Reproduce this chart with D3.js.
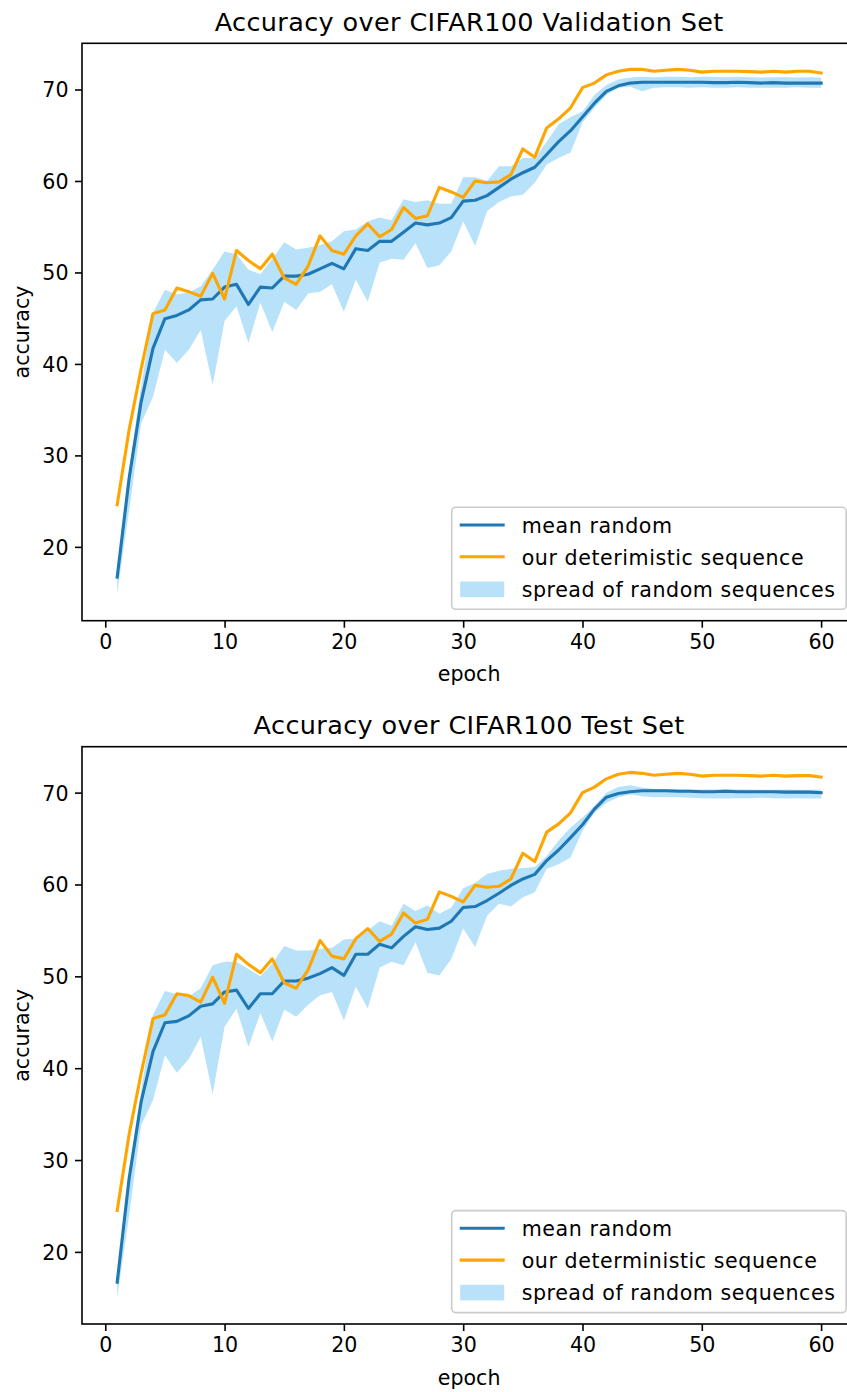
<!DOCTYPE html>
<html>
<head>
<meta charset="utf-8">
<script src="https://cdn.jsdelivr.net/npm/d3@7"></script>
<style>
  html, body { margin: 0; padding: 0; background: #fff; }
  svg { display: block; }
  text { font-family: "DejaVu Sans", sans-serif; fill: #000; }
</style>
</head>
<body>
<div id="chart"></div>
<script>
// ---- data -------------------------------------------------------------
const epochs = d3.range(1, 61);
const xTicks = [0, 10, 20, 30, 40, 50, 60];
const yTicks = [20, 30, 40, 50, 60, 70];

// Validation set
const valMean = [16.7, 27.5, 35.8, 41.7, 44.95, 45.3, 45.9, 47.0, 47.1, 48.4,
  48.7, 46.5, 48.4, 48.3, 49.6, 49.6, 49.8, 50.4, 51.0, 50.4,
  52.6, 52.4, 53.4, 53.4, 54.4, 55.4, 55.2, 55.4, 56.0, 57.8,
  57.9, 58.4, 59.3, 60.2, 60.9, 61.5, 62.9, 64.3, 65.5, 67.0,
  68.5, 69.8, 70.4, 70.7, 70.8, 70.8, 70.8, 70.8, 70.8, 70.8,
  70.75, 70.75, 70.8, 70.75, 70.7, 70.75, 70.7, 70.7, 70.7, 70.7];
const valUpper = [16.9, 28.5, 37.5, 45.6, 48.1, 47.6, 47.8, 48.5, 50.3, 52.3,
  52.0, 50.3, 49.8, 51.5, 53.3, 52.5, 52.7, 53.0, 53.4, 54.5,
  54.7, 55.6, 56.0, 55.7, 58.0, 57.7, 57.9, 57.5, 57.5, 60.4,
  60.4, 60.0, 61.6, 61.6, 62.5, 62.5, 64.3, 66.2, 67.0, 67.6,
  69.4, 70.5, 71.1, 71.3, 71.4, 71.35, 71.4, 71.4, 71.35, 71.4,
  71.4, 71.35, 71.4, 71.35, 71.3, 71.35, 71.35, 71.3, 71.35, 71.3];
const valLower = [14.9, 24.0, 33.5, 36.4, 41.55, 40.1, 41.55, 43.7, 37.7, 44.7,
  46.3, 42.3, 46.7, 43.5, 46.8, 45.9, 47.7, 47.9, 48.7, 45.7,
  49.2, 46.8, 51.1, 51.5, 51.4, 53.2, 50.5, 50.8, 52.3, 55.6,
  52.9, 56.7, 57.7, 58.3, 58.5, 59.8, 61.8, 62.5, 63.1, 66.4,
  68.0, 69.4, 70.2, 70.3, 69.8, 70.2, 70.25, 70.25, 70.2, 70.25,
  70.2, 70.2, 70.25, 70.2, 70.2, 70.2, 70.2, 70.25, 70.2, 70.2];
const valDet = [24.6, 32.8, 39.4, 45.5, 45.9, 48.3, 47.9, 47.4, 49.9, 47.1,
  52.4, 51.3, 50.4, 52.0, 49.4, 48.7, 50.7, 54.0, 52.4, 52.0,
  54.0, 55.3, 53.9, 54.7, 57.1, 55.9, 56.2, 59.3, 58.8, 58.2,
  60.0, 59.8, 59.9, 60.7, 63.5, 62.6, 65.8, 66.8, 68.0, 70.2,
  70.7, 71.6, 72.0, 72.2, 72.2, 72.0, 72.1, 72.2, 72.1, 71.9,
  72.0, 72.0, 72.0, 71.95, 71.9, 72.0, 71.9, 72.0, 72.0, 71.8];

// Test set
const testMean = [16.7, 28.0, 36.3, 41.8, 44.95, 45.1, 45.7, 46.75, 47.0, 48.3,
  48.5, 46.5, 48.1, 48.1, 49.5, 49.5, 49.8, 50.3, 50.95, 50.1,
  52.4, 52.4, 53.5, 53.1, 54.35, 55.4, 55.1, 55.25, 56.0, 57.5,
  57.6, 58.25, 59.05, 59.9, 60.6, 61.1, 62.6, 63.75, 65.1, 66.5,
  68.2, 69.5, 69.9, 70.1, 70.2, 70.2, 70.2, 70.15, 70.15, 70.1,
  70.1, 70.15, 70.1, 70.1, 70.1, 70.1, 70.05, 70.05, 70.05, 70.0];
const testUpper = [16.9, 28.8, 37.5, 45.8, 48.4, 48.05, 47.8, 48.7, 51.2, 51.6,
  51.6, 50.8, 50.0, 51.4, 53.3, 52.8, 52.8, 53.0, 53.1, 54.0,
  54.1, 55.0, 56.0, 55.5, 57.9, 57.1, 57.7, 56.8, 57.5, 59.6,
  60.2, 61.15, 61.5, 61.7, 61.8, 61.9, 63.1, 64.8, 66.2, 67.3,
  68.55, 70.0, 70.6, 70.8, 70.55, 70.4, 70.4, 70.4, 70.35, 70.35,
  70.35, 70.4, 70.35, 70.35, 70.3, 70.3, 70.35, 70.3, 70.3, 70.3];
const testLower = [15.0, 24.0, 33.8, 36.5, 41.4, 39.5, 41.0, 43.4, 37.2, 44.5,
  46.5, 42.3, 46.0, 42.9, 46.4, 45.6, 46.9, 47.95, 48.3, 45.2,
  48.9, 46.5, 50.95, 51.6, 51.2, 53.7, 50.4, 50.1, 51.9, 55.2,
  53.2, 56.6, 57.9, 57.6, 58.6, 59.15, 61.7, 62.2, 62.95, 65.85,
  67.8, 68.9, 69.5, 69.8, 69.6, 69.5, 69.5, 69.5, 69.45, 69.4,
  69.35, 69.35, 69.4, 69.4, 69.45, 69.4, 69.35, 69.4, 69.35, 69.35];
const testDet = [24.5, 32.8, 39.4, 45.4, 45.8, 48.1, 47.9, 47.2, 49.9, 47.05,
  52.4, 51.3, 50.4, 51.9, 49.3, 48.7, 50.7, 53.9, 52.2, 51.9,
  54.1, 55.2, 53.8, 54.6, 56.9, 55.8, 56.2, 59.2, 58.7, 58.1,
  59.9, 59.7, 59.8, 60.6, 63.4, 62.5, 65.7, 66.6, 67.8, 70.0,
  70.6, 71.5, 72.0, 72.2, 72.1, 71.9, 72.0, 72.1, 72.0, 71.8,
  71.9, 71.9, 71.9, 71.85, 71.8, 71.9, 71.8, 71.85, 71.85, 71.7];

const panels = [
  { title: "Accuracy over CIFAR100 Validation Set", top: 43.3, bottom: 620.7,
    yDomain: [11.93, 75.05], mean: valMean, upper: valUpper, lower: valLower, det: valDet,
    labels: ["mean random", "our deterimistic sequence", "spread of random sequences"] },
  { title: "Accuracy over CIFAR100 Test Set", top: 746.7, bottom: 1324,
    yDomain: [12.15, 75.0], mean: testMean, upper: testUpper, lower: testLower, det: testDet,
    labels: ["mean random", "our deterministic sequence", "spread of random sequences"] }
];

// ---- drawing ----------------------------------------------------------
const W = 847, H = 1392;
const left = 82, right = 856.3;
const FS = 20.6, TITLE_FS = 25.5;
const BLUE = "#1f77b4", ORANGE = "#ffa500", BAND = "#b7e2fa";

const svg = d3.select("#chart").append("svg")
  .attr("width", W).attr("height", H)
  .attr("viewBox", `0 0 ${W} ${H}`);

panels.forEach((p, i) => {
  const x = d3.scaleLinear().domain([-1.95, 62.95]).range([left, right]);
  const y = d3.scaleLinear().domain(p.yDomain).range([p.bottom, p.top]);
  const g = svg.append("g");

  const clipId = "clip" + i;
  svg.append("clipPath").attr("id", clipId).append("rect")
    .attr("x", left).attr("y", p.top).attr("width", right - left).attr("height", p.bottom - p.top);

  const plot = g.append("g").attr("clip-path", `url(#${clipId})`);

  const rows = epochs.map((e, k) => ({ e, m: p.mean[k], u: p.upper[k], l: p.lower[k], d: p.det[k] }));

  // spread band, mean line, deterministic line
  plot.append("path").datum(rows)
    .attr("d", d3.area().x(r => x(r.e)).y0(r => y(r.l)).y1(r => y(r.u)))
    .attr("fill", BAND).attr("stroke", "none");

  plot.append("path").datum(rows)
    .attr("d", d3.line().x(r => x(r.e)).y(r => y(r.m)))
    .attr("fill", "none").attr("stroke", BLUE).attr("stroke-width", 3.1)
    .attr("stroke-linejoin", "round").attr("stroke-linecap", "square");

  plot.append("path").datum(rows)
    .attr("d", d3.line().x(r => x(r.e)).y(r => y(r.d)))
    .attr("fill", "none").attr("stroke", ORANGE).attr("stroke-width", 3.1)
    .attr("stroke-linejoin", "round").attr("stroke-linecap", "square");

  // axes
  const xAxis = d3.axisBottom(x).tickValues(xTicks).tickSize(7).tickPadding(6).tickFormat(d3.format("d"));
  const yAxis = d3.axisLeft(y).tickValues(yTicks).tickSize(7).tickPadding(6).tickFormat(d3.format("d"));

  const gx = g.append("g").attr("transform", `translate(0,${p.bottom})`).call(xAxis);
  const gy = g.append("g").attr("transform", `translate(${left},0)`).call(yAxis);
  [gx, gy].forEach(a => {
    a.select(".domain").remove();
    a.selectAll(".tick line").attr("stroke", "#000").attr("stroke-width", 1.6);
    a.selectAll(".tick text").attr("font-size", FS).attr("font-family", "DejaVu Sans").attr("fill", "#000");
  });
  gx.selectAll(".tick text").attr("dy", "0.73em").attr("y", 13);
  gy.selectAll(".tick text").attr("dy", "0.36em").attr("x", -13.5);

  // spines
  g.append("rect")
    .attr("x", left).attr("y", p.top).attr("width", right - left).attr("height", p.bottom - p.top)
    .attr("fill", "none").attr("stroke", "#000").attr("stroke-width", 1.6);

  // labels
  const cx = (left + right) / 2;
  g.append("text").attr("x", cx).attr("y", p.top - 12.5).attr("text-anchor", "middle")
    .attr("font-size", TITLE_FS).attr("letter-spacing", 0.38).text(p.title);
  g.append("text").attr("x", cx).attr("y", p.bottom + 60.5).attr("text-anchor", "middle")
    .attr("font-size", FS).text("epoch");
  const ym = (p.top + p.bottom) / 2;
  g.append("text").attr("transform", `translate(29,${ym}) rotate(-90)`).attr("text-anchor", "middle")
    .attr("font-size", FS).text("accuracy");

  // legend
  const lgX = 451.7, lgW = 394.5, lgH = 102, lgY = p.bottom - 11.4 - lgH;
  const lg = g.append("g");
  lg.append("rect").attr("x", lgX).attr("y", lgY).attr("width", lgW).attr("height", lgH)
    .attr("rx", 4).attr("ry", 4)
    .attr("fill", "#fff").attr("fill-opacity", 0.8).attr("stroke", "#cccccc").attr("stroke-width", 1.6);
  const rowY = [lgY + 17.7, lgY + 49.5, lgY + 82];
  lg.append("line").attr("x1", lgX + 8).attr("x2", lgX + 53).attr("y1", rowY[0]).attr("y2", rowY[0])
    .attr("stroke", BLUE).attr("stroke-width", 3.1);
  lg.append("line").attr("x1", lgX + 8).attr("x2", lgX + 53).attr("y1", rowY[1]).attr("y2", rowY[1])
    .attr("stroke", ORANGE).attr("stroke-width", 3.1);
  lg.append("rect").attr("x", lgX + 8.5).attr("y", rowY[2] - 7.8).attr("width", 44).attr("height", 15.6)
    .attr("fill", BAND);
  p.labels.forEach((t, k) => {
    lg.append("text").attr("x", lgX + 70).attr("y", rowY[k] + 7.8).attr("font-size", FS)
      .attr("letter-spacing", 0.55).text(t);
  });
});
</script>
</body>
</html>
